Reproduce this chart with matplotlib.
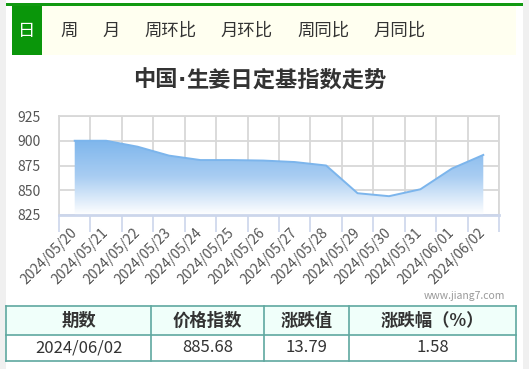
import matplotlib.pyplot as plt
import matplotlib.patches as mpatches
import matplotlib.transforms as mtransforms
from matplotlib.colors import LinearSegmentedColormap
import numpy as np

plt.rcParams['font.family'] = ['Noto Sans CJK SC', 'DejaVu Sans']

# 数据
dates = ['2024/05/20', '2024/05/21', '2024/05/22', '2024/05/23', '2024/05/24',
         '2024/05/25', '2024/05/26', '2024/05/27', '2024/05/28', '2024/05/29',
         '2024/05/30', '2024/05/31', '2024/06/01', '2024/06/02']
values = [900.0, 900.0, 894.0, 885.0, 880.5, 880.5, 880.0, 878.5, 875.0,
          847.0, 844.0, 851.0, 871.89, 885.68]
y_ticks = [825, 850, 875, 900, 925]
tabs = ['日', '周', '月', '周环比', '月环比', '周同比', '月同比']
tab_x = [27, 69, 111, 170, 247, 323, 400]
title_parts = ['中国', '·', '生姜日定基指数走势']
table_header = ['期数', '价格指数', '涨跌值', '涨跌幅（%）']
table_row = ['2024/06/02', '885.68', '13.79', '1.58']

W, H = 529, 369
fig = plt.figure(figsize=(W / 100, H / 100), dpi=100)
fig.patch.set_facecolor('white')


def fx(x):
    return x / W


def fy(y):
    return 1 - y / H


def rect(x0, y0, x1, y1, **kw):
    fig.patches.append(mpatches.Rectangle((fx(x0), fy(y1)), fx(x1) - fx(x0), fy(y0) - fy(y1),
                                          transform=fig.transFigure, **kw))


# 两侧灰边
rect(0, 0, 6, H, facecolor='#f0f0f0', edgecolor='none')
rect(523, 0, W, H, facecolor='#f0f0f0', edgecolor='none')

# 顶部选项卡
rect(6, 3, 523, 5.5, facecolor='#119911', edgecolor='none')
rect(42, 5.5, 516, 55, facecolor='#fffff0', edgecolor='none')
rect(12, 5.5, 42, 55, facecolor='#0a960a', edgecolor='none')
for i, (t, x) in enumerate(zip(tabs, tab_x)):
    fig.text(fx(x), fy(31), t, ha='center', va='center', fontsize=12.5,
             color='white' if i == 0 else '#333333')

# 标题（中间的点用窄字体）
renderer = fig.canvas.get_renderer()
cur = 133
for part in title_parts:
    fam = ['DejaVu Sans'] if part == '·' else ['Noto Sans CJK SC']
    t = fig.text(fx(cur), fy(80), part, ha='left', va='center', fontsize=16,
                 fontweight='bold', color='#333333', family=fam)
    cur += t.get_window_extent(renderer).width

# 图表
x0, x1, y0, y1 = 59, 499, 116, 215
ax = fig.add_axes([fx(x0), fy(y1), fx(x1) - fx(x0), fy(y0) - fy(y1)])
n = len(dates)
xs = np.arange(n)
ax.set_xlim(-0.5, n - 0.5)
ax.set_ylim(825, 925)

poly = ax.fill_between(xs, values, 825, color='none', lw=0)
grad = np.linspace(0, 1, 256).reshape(-1, 1)
cmap = LinearSegmentedColormap.from_list('g', ['#ffffff', '#a9cdf2', '#7cb5ec'])
img = ax.imshow(grad, cmap=cmap, aspect='auto', origin='lower',
                extent=[-0.5, n - 0.5, 825, 902], zorder=1)
img.set_clip_path(poly.get_paths()[0], transform=ax.transData)
ax.plot(xs, values, color='#7cb5ec', lw=1.4, zorder=3)

ax.set_yticks(y_ticks)
ax.set_yticklabels([str(v) for v in y_ticks], fontsize=10, color='#555555')
ax.set_xticks(np.arange(-0.5, n, 1), minor=True)
ax.set_xticks(xs)
ax.set_xticklabels(dates, rotation=45, ha='right', va='center', rotation_mode='anchor',
                   fontsize=10, color='#555555')
shift = mtransforms.ScaledTranslation(3 / 100, 0, fig.dpi_scale_trans)
for lab in ax.get_xticklabels():
    lab.set_transform(lab.get_transform() + shift)
ax.tick_params(axis='x', which='major', length=0, pad=11)
ax.tick_params(axis='x', which='minor', length=12, color='#ccd6eb', width=1.2)
ax.tick_params(axis='y', length=0, pad=13)
ax.grid(True, axis='y', color='#d8d8d8', lw=1.3, zorder=0)
ax.grid(True, axis='x', which='minor', color='#d8d8d8', lw=1.3, zorder=0)
for s in ['top', 'left', 'right']:
    ax.spines[s].set_color('#d8d8d8')
    ax.spines[s].set_linewidth(1.3)
ax.spines['bottom'].set_color('#ccd6eb')
ax.spines['bottom'].set_linewidth(2)
ax.set_axisbelow(True)

# 水印
fig.text(fx(505), fy(296), 'www.jiang7.com', ha='right', va='center', fontsize=7.5,
         color='#999999')

# 表格
cols = [6, 151, 264, 349, 516]
rows = [306, 335, 361]
rect(cols[0], rows[0], cols[-1], rows[1], facecolor='#f0fffa', edgecolor='none')
lc = '#5fa8a0'
for c in cols:
    fig.add_artist(plt.Line2D([fx(c), fx(c)], [fy(rows[0]), fy(rows[-1])], color=lc, lw=1.2))
for r in rows:
    fig.add_artist(plt.Line2D([fx(cols[0]), fx(cols[-1])], [fy(r), fy(r)], color=lc, lw=1.2))
for i in range(4):
    cx = (cols[i] + cols[i + 1]) / 2
    fig.text(fx(cx), fy((rows[0] + rows[1]) / 2), table_header[i], ha='center', va='center',
             fontsize=12.5, fontweight='bold', color='#333333')
    fig.text(fx(cx), fy((rows[1] + rows[2]) / 2), table_row[i], ha='center', va='center',
             fontsize=12, color='#333333')

plt.savefig('out.png', dpi=100)
